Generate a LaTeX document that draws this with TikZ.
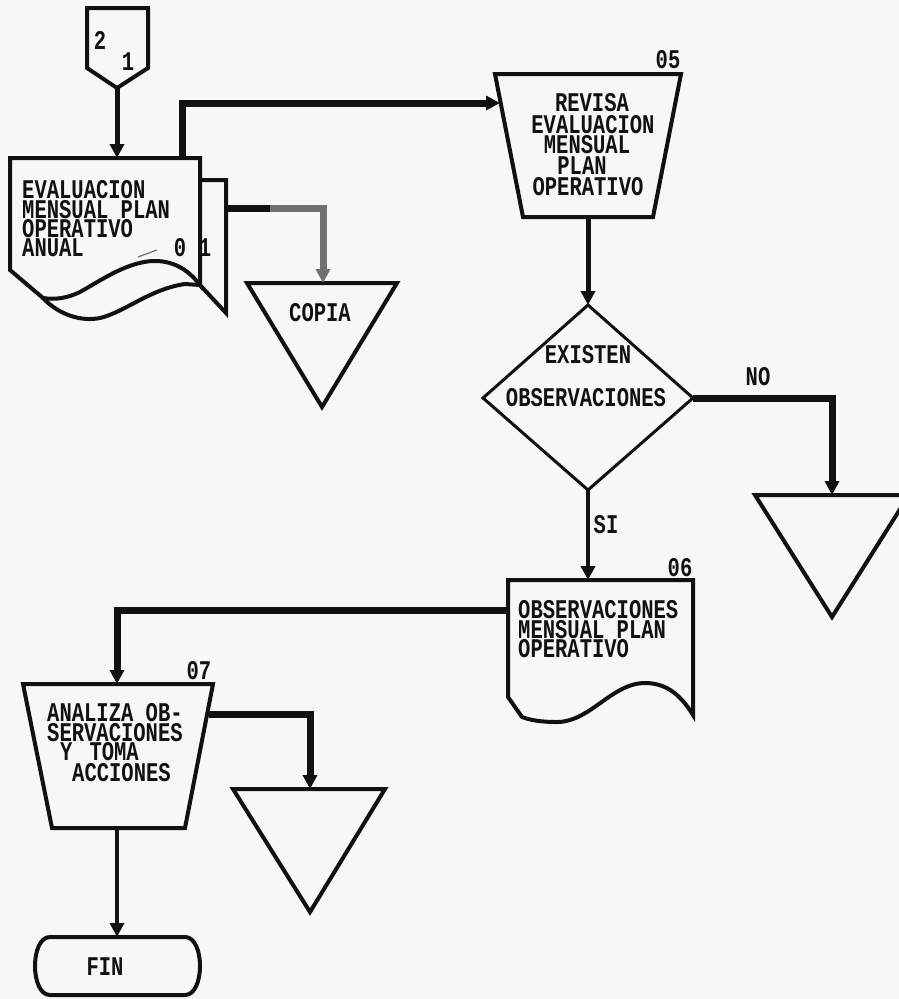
\documentclass[tikz,border=0pt]{standalone}
\usepackage{fontspec}
\setmonofont[FakeStretch=0.76]{Liberation Mono}
\usetikzlibrary{arrows.meta}
\definecolor{paper}{HTML}{F7F7F7}
\definecolor{ink}{HTML}{111111}
\definecolor{grayink}{HTML}{707070}
\tikzset{
  shapeline/.style={draw=ink, line width=4pt, line join=miter},
  lbl/.style={font=\ttfamily\bfseries\fontsize{27}{20}\selectfont, text=ink, inner sep=0pt},
  conn/.style={draw=ink, line width=#1, line join=miter, -{Triangle[length=14pt,width=14pt]}},
  conn/.default=6pt
}
\begin{document}
\begin{tikzpicture}[x=1pt,y=-1pt]
\useasboundingbox (0,0) rectangle (899,999);
\fill[paper] (0,0) rectangle (899,999);
\clip (0,0) rectangle (899,999);

% ---------- shapes ----------
% off-page connector
\draw[shapeline] (87,8) -- (148,8) -- (148,68) -- (117,88) -- (87,68) -- cycle;
% document 01 (back sheet)
\draw[shapeline] (200,180) -- (226,180) -- (226,313) -- (200,285);
\draw[shapeline] (43,298) .. controls (58,314) and (80,322) .. (100,318)
  .. controls (125,312) and (150,289) .. (185,284) -- (200,285);
% document 01 (front sheet)
\draw[shapeline] (10,158) -- (200,158) -- (200,285)
  .. controls (190,272) and (176,261) .. (155,261)
  .. controls (128,261) and (100,281) .. (80,292)
  .. controls (68,298) and (55,300) .. (43,298) -- (10,270) -- cycle;
\draw[grayink, line width=1.2pt] (138,257) -- (157,250);
% COPIA triangle
\draw[shapeline] (247,283) -- (397,283) -- (322,407) -- cycle;
% manual operation 05
\draw[shapeline] (495,74) -- (681,74) -- (653,217) -- (523,217) -- cycle;
% decision
\draw[shapeline, line width=3pt] (588,305) -- (693,398) -- (588,490) -- (483,398) -- cycle;
% NO triangle
\draw[shapeline] (755,495) -- (909,495) -- (832,617) -- cycle;
% document 06
\draw[shapeline] (508,580) -- (693,580) -- (693,715)
  .. controls (682,697) and (668,683) .. (645,683)
  .. controls (612,683) and (590,722) .. (557,722)
  .. controls (540,722) and (530,720) .. (522,717) -- (508,697) -- cycle;
% manual operation 07
\draw[shapeline] (23,684) -- (213,684) -- (185,828) -- (52,828) -- cycle;
% triangle after 07
\draw[shapeline] (233,789) -- (385,789) -- (310,912) -- cycle;
% FIN terminal
\draw[shapeline] (50,937) -- (185,937) .. controls (205,937) and (205,995) .. (185,995)
  -- (50,995) .. controls (30,995) and (30,937) .. (50,937) -- cycle;

% ---------- connection points ----------
\coordinate (pentTip) at (117,88);
\coordinate (docTop) at (117,158);
\coordinate (docOut) at (182,158);
\coordinate (revIn) at (500,103);
\coordinate (docSide) at (226,208);
\coordinate (copiaMid) at (270,208);
\coordinate (copiaTop) at (323,283);
\coordinate (revOut) at (588,217);
\coordinate (diaTop) at (588,305);
\coordinate (diaRight) at (693,398);
\coordinate (noTop) at (832,495);
\coordinate (diaBot) at (588,490);
\coordinate (obsTop) at (588,580);
\coordinate (obsLeft) at (508,610);
\coordinate (anaTop) at (117,684);
\coordinate (anaRight) at (209,714);
\coordinate (triTop) at (310,789);
\coordinate (anaBot) at (117,828);
\coordinate (finTop) at (117,937);

% ---------- connectors ----------
\draw[conn=5pt] (pentTip) -- (docTop);
\draw[conn=7pt] (docOut) |- (revIn);
\draw[conn=7pt, draw=grayink] (docSide) -| (copiaTop);
\draw[draw=ink, line width=7pt] (docSide) -- (copiaMid);
\draw[conn=5pt] (revOut) -- (diaTop);
\draw[conn=7pt] (diaRight) -| (noTop);
\draw[conn=4pt] (diaBot) -- (obsTop);
\draw[conn=7pt] (obsLeft) -| (anaTop);
\draw[conn=7pt] (anaRight) -| (triTop);
\draw[conn=4pt] (anaBot) -- (finTop);

% ---------- texts ----------
\node[lbl] (p2) at (100,40) {2};
\node[lbl] (p1) at (128,62) {1};

\node[lbl, anchor=west] (d1a) at (22,190) {EVALUACION};
\node[lbl, anchor=west] (d1b) at (22,210) {MENSUAL PLAN};
\node[lbl, anchor=west] (d1c) at (22,229) {OPERATIVO};
\node[lbl, anchor=west] (d1d) at (22,248) {ANUAL};
\node[lbl] (d1n0) at (180,248) {0};
\node[lbl] (d1n1) at (205,248) {1};

\node[lbl] (copia) at (320,313) {COPIA};

\node[lbl] (n05) at (668,60) {05};
\node[lbl] (r1) at (592,103) {REVISA};
\node[lbl] (r2) at (593,125) {EVALUACION};
\node[lbl] (r3) at (587,145) {MENSUAL};
\node[lbl] (r4) at (582,166) {PLAN};
\node[lbl] (r5) at (588,187) {OPERATIVO};

\node[lbl] (e1) at (588,355) {EXISTEN};
\node[lbl] (e2) at (586,398) {OBSERVACIONES};
\node[lbl] (no) at (758,377) {NO};
\node[lbl] (si) at (606,525) {SI};

\node[lbl] (n06) at (680,568) {06};
\node[lbl, anchor=west] (o1) at (518,610) {OBSERVACIONES};
\node[lbl, anchor=west] (o2) at (518,630) {MENSUAL PLAN};
\node[lbl, anchor=west] (o3) at (518,649) {OPERATIVO};

\node[lbl] (n07) at (199,671) {07};
\node[lbl, anchor=west] (a1) at (47,713) {ANALIZA OB-};
\node[lbl, anchor=west] (a2) at (47,733) {SERVACIONES};
\node[lbl, anchor=west] (a3) at (60,752) {Y\hspace{17pt}TOMA};
\node[lbl, anchor=west] (a4) at (72,773) {ACCIONES};

\node[lbl] (fin) at (105,967) {FIN};
\end{tikzpicture}
\end{document}
